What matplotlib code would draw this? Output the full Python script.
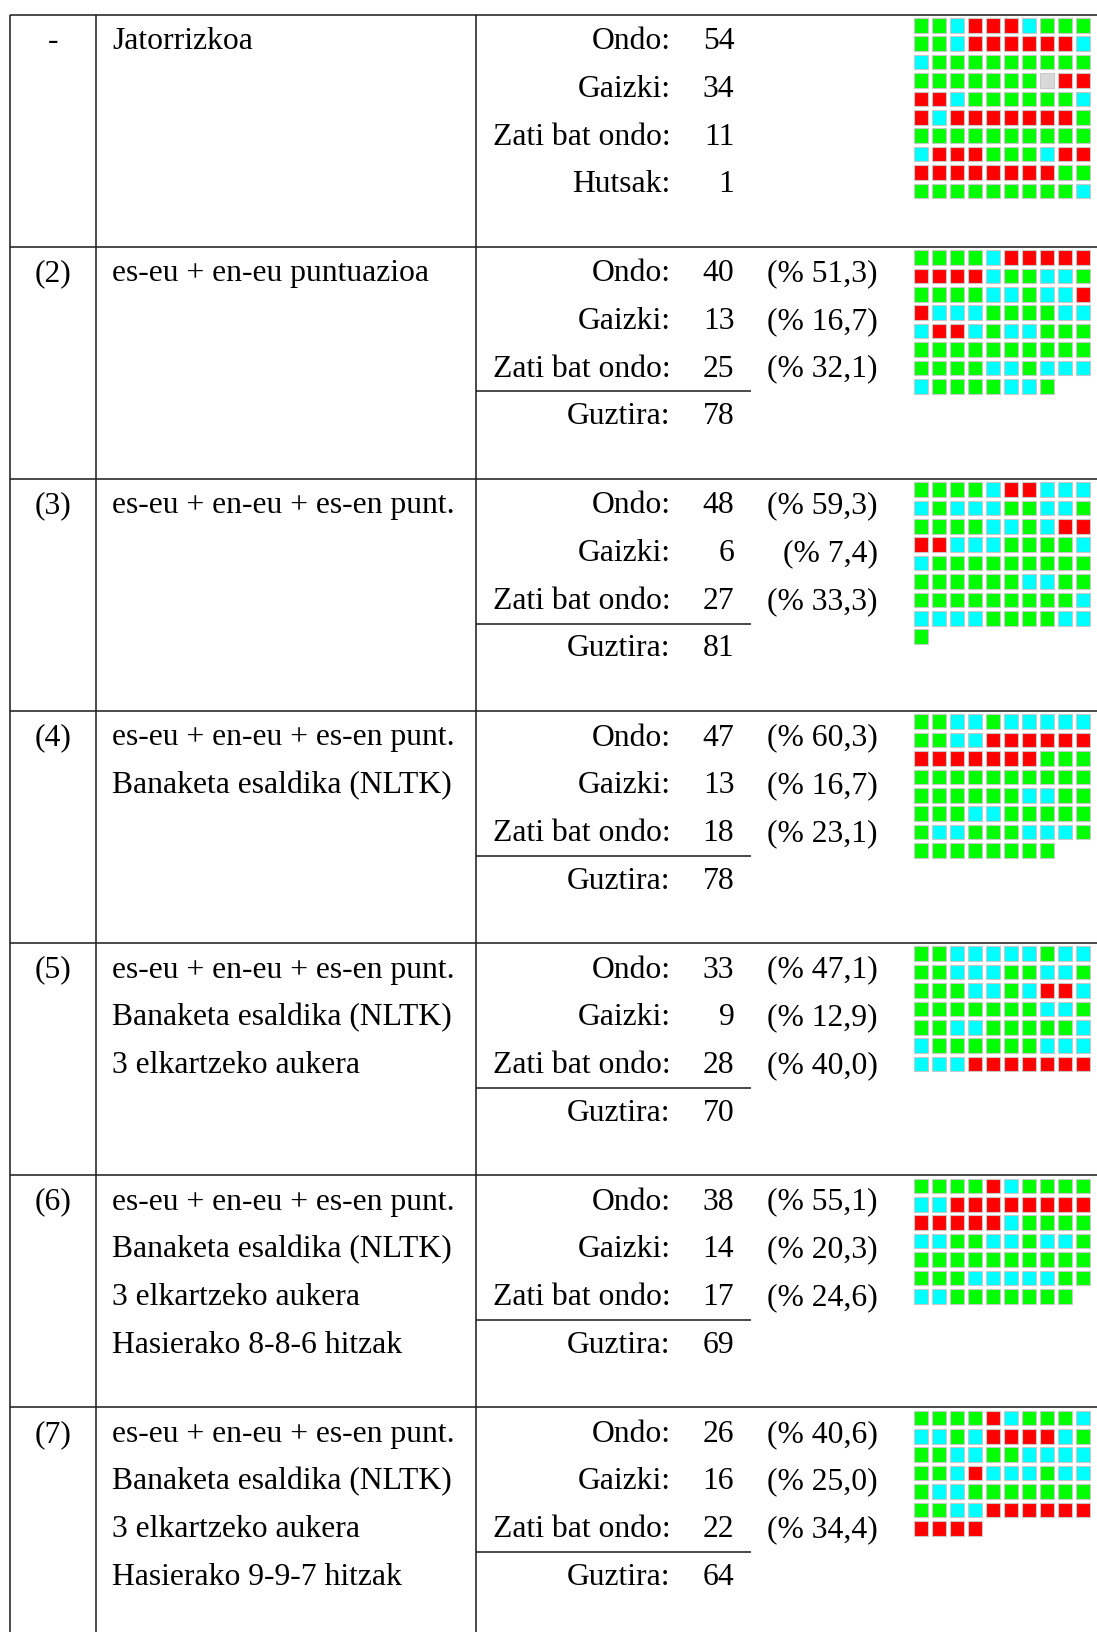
"""
Itzulpen emaitzen taula, waffle laukiekin
"""

import matplotlib.pyplot as plt
from matplotlib.patches import Rectangle

#---------------------------------------------------------------------------------------------------
# Datuak
#---------------------------------------------------------------------------------------------------

row_ids = ['-', '(2)', '(3)', '(4)', '(5)', '(6)', '(7)']

row_desc = [
    ['Jatorrizkoa'],
    ['es-eu + en-eu puntuazioa'],
    ['es-eu + en-eu + es-en punt.'],
    ['es-eu + en-eu + es-en punt.', 'Banaketa esaldika (NLTK)'],
    ['es-eu + en-eu + es-en punt.', 'Banaketa esaldika (NLTK)', '3 elkartzeko aukera'],
    ['es-eu + en-eu + es-en punt.', 'Banaketa esaldika (NLTK)', '3 elkartzeko aukera',
     'Hasierako 8-8-6 hitzak'],
    ['es-eu + en-eu + es-en punt.', 'Banaketa esaldika (NLTK)', '3 elkartzeko aukera',
     'Hasierako 9-9-7 hitzak'],
]

first_labels = ['Ondo:', 'Gaizki:', 'Zati bat ondo:', 'Hutsak:']
first_counts = [54, 34, 11, 1]

labels = ['Ondo:', 'Gaizki:', 'Zati bat ondo:']
ondo = [40, 48, 47, 33, 38, 26]
gaizki = [13, 6, 13, 9, 14, 16]
zati = [25, 27, 18, 28, 17, 22]
guztira = [78, 81, 78, 70, 69, 64]

pct_ondo = [51.3, 59.3, 60.3, 47.1, 55.1, 40.6]
pct_gaizki = [16.7, 7.4, 16.7, 12.9, 20.3, 25.0]
pct_zati = [32.1, 33.3, 23.1, 40.0, 24.6, 34.4]

# G = ondo, R = gaizki, C = zati bat ondo, E = hutsa
grids = [
    ['GGCRRRCGGG', 'GGCRRRRRRC', 'CGGGGGGGGG', 'GGGGGGGERR', 'RRCGGGGGGC',
     'RCRRRRRRRG', 'GGGGGGGGGG', 'CRRRGGGCRR', 'RRRRRRRRGG', 'GGGGGGGGGC'],
    ['GGGGCRRRRR', 'RRRRCGGCCG', 'GGGGCCGCCR', 'RCCCGGGGCC', 'CRRCGCCGGG',
     'GGGGGGGGGG', 'GGGGCCGCCC', 'CGGGGCCG'],
    ['GGGGCRRCCC', 'CGCCCGGCCG', 'GGGGCCGCRR', 'RRCCCGGGGC', 'CGGGGGGGGG',
     'GGGGGGCCGG', 'GGGGGGGGGC', 'CCCCGGGGCC', 'G'],
    ['GGCCGCCCCC', 'GGCCRRRRRR', 'RRRRRRRGGG', 'GGGGGGGGGG', 'GGGGGGCCGG',
     'GGGCCGGGGG', 'GCCGGGCCCG', 'GGGGGGGG'],
    ['GGCCCCCGCC', 'GGCCCGGCCG', 'GGGCCGCRRC', 'GGGGGGGCCG', 'GGCCGGGGGC',
     'CGGGGGGCCC', 'CCCRRRRRRR'],
    ['GGGGRCGGGG', 'CCRRRRRRRR', 'RRRRRCGGGG', 'CCGGCCGCCG', 'GGGGGGGGGG',
     'GGGCCCCCGG', 'CCGGGGGGG'],
    ['GGGGRCGGGC', 'CCGCRRRRCG', 'GGCCGGCCCC', 'GGCRCCCGCC', 'GCCGGGGGGG',
     'GGCCRRRRRR', 'RRRR'],
]

cell_colors = {'G': '#00ff00', 'R': '#ff0000', 'C': '#00ffff', 'E': '#d9d9d9'}

#---------------------------------------------------------------------------------------------------
# Irudia
#---------------------------------------------------------------------------------------------------

W, H = 1097, 1632
fig = plt.figure(figsize=(W / 100, H / 100), dpi=100)
ax = fig.add_axes([0, 0, 1, 1])
ax.set_xlim(0, W)
ax.set_ylim(H, 0)
ax.axis('off')

font = dict(family='Liberation Serif', size=22.8, color='black')
line_kw = dict(color='#1a1a1a', lw=1.1, solid_capstyle='butt')

top = 14.6
row_h = 232.1
line_h = 47.7
x_left, x_c1, x_c2 = 10, 95.8, 475.8
x_lab, x_num, x_pct = 670.8, 734.3, 877.9
x_desc = 112.4

def fmt_pct(v):
    return f"(% {v:.1f})".replace('.', ',')

# Table lines
for i in range(len(row_ids)):
    ax.plot([x_left, W], [top + i * row_h] * 2, **line_kw)
for x in [x_left, x_c1, x_c2]:
    ax.plot([x, x], [top, H], **line_kw)

for i in range(len(row_ids)):
    rt = top + i * row_h
    base = rt + 34.6

    ax.text((x_left + x_c1) / 2, base, row_ids[i], ha='center', va='baseline', **font)
    for k, line in enumerate(row_desc[i]):
        ax.text(x_desc, base + k * line_h, line, ha='left', va='baseline', **font)

    if i == 0:
        for k, (lab, n) in enumerate(zip(first_labels, first_counts)):
            ax.text(x_lab, base + k * line_h, lab, ha='right', va='baseline', **font)
            ax.text(x_num, base + k * line_h, str(n), ha='right', va='baseline', **font)
    else:
        j = i - 1
        counts = [ondo[j], gaizki[j], zati[j]]
        pcts = [pct_ondo[j], pct_gaizki[j], pct_zati[j]]
        for k in range(3):
            ax.text(x_lab, base + k * line_h, labels[k], ha='right', va='baseline', **font)
            ax.text(x_num, base + k * line_h, str(counts[k]), ha='right', va='baseline', **font)
            ax.text(x_pct, base + k * line_h, fmt_pct(pcts[k]), ha='right', va='baseline', **font)
        ax.plot([x_c2, 750.5], [rt + 144.7] * 2, **line_kw)
        ax.text(x_lab, base + 3 * line_h, 'Guztira:', ha='right', va='baseline', **font)
        ax.text(x_num, base + 3 * line_h, str(guztira[j]), ha='right', va='baseline', **font)

    # Waffle
    for r, row in enumerate(grids[i]):
        for c, key in enumerate(row):
            ax.add_patch(Rectangle((913.7 + c * 18.0, rt + 3.4 + r * 18.4), 14.6, 14.6,
                                   facecolor=cell_colors[key], edgecolor='#c8c8c8', lw=0.8))

plt.savefig('out.png', dpi=100)
